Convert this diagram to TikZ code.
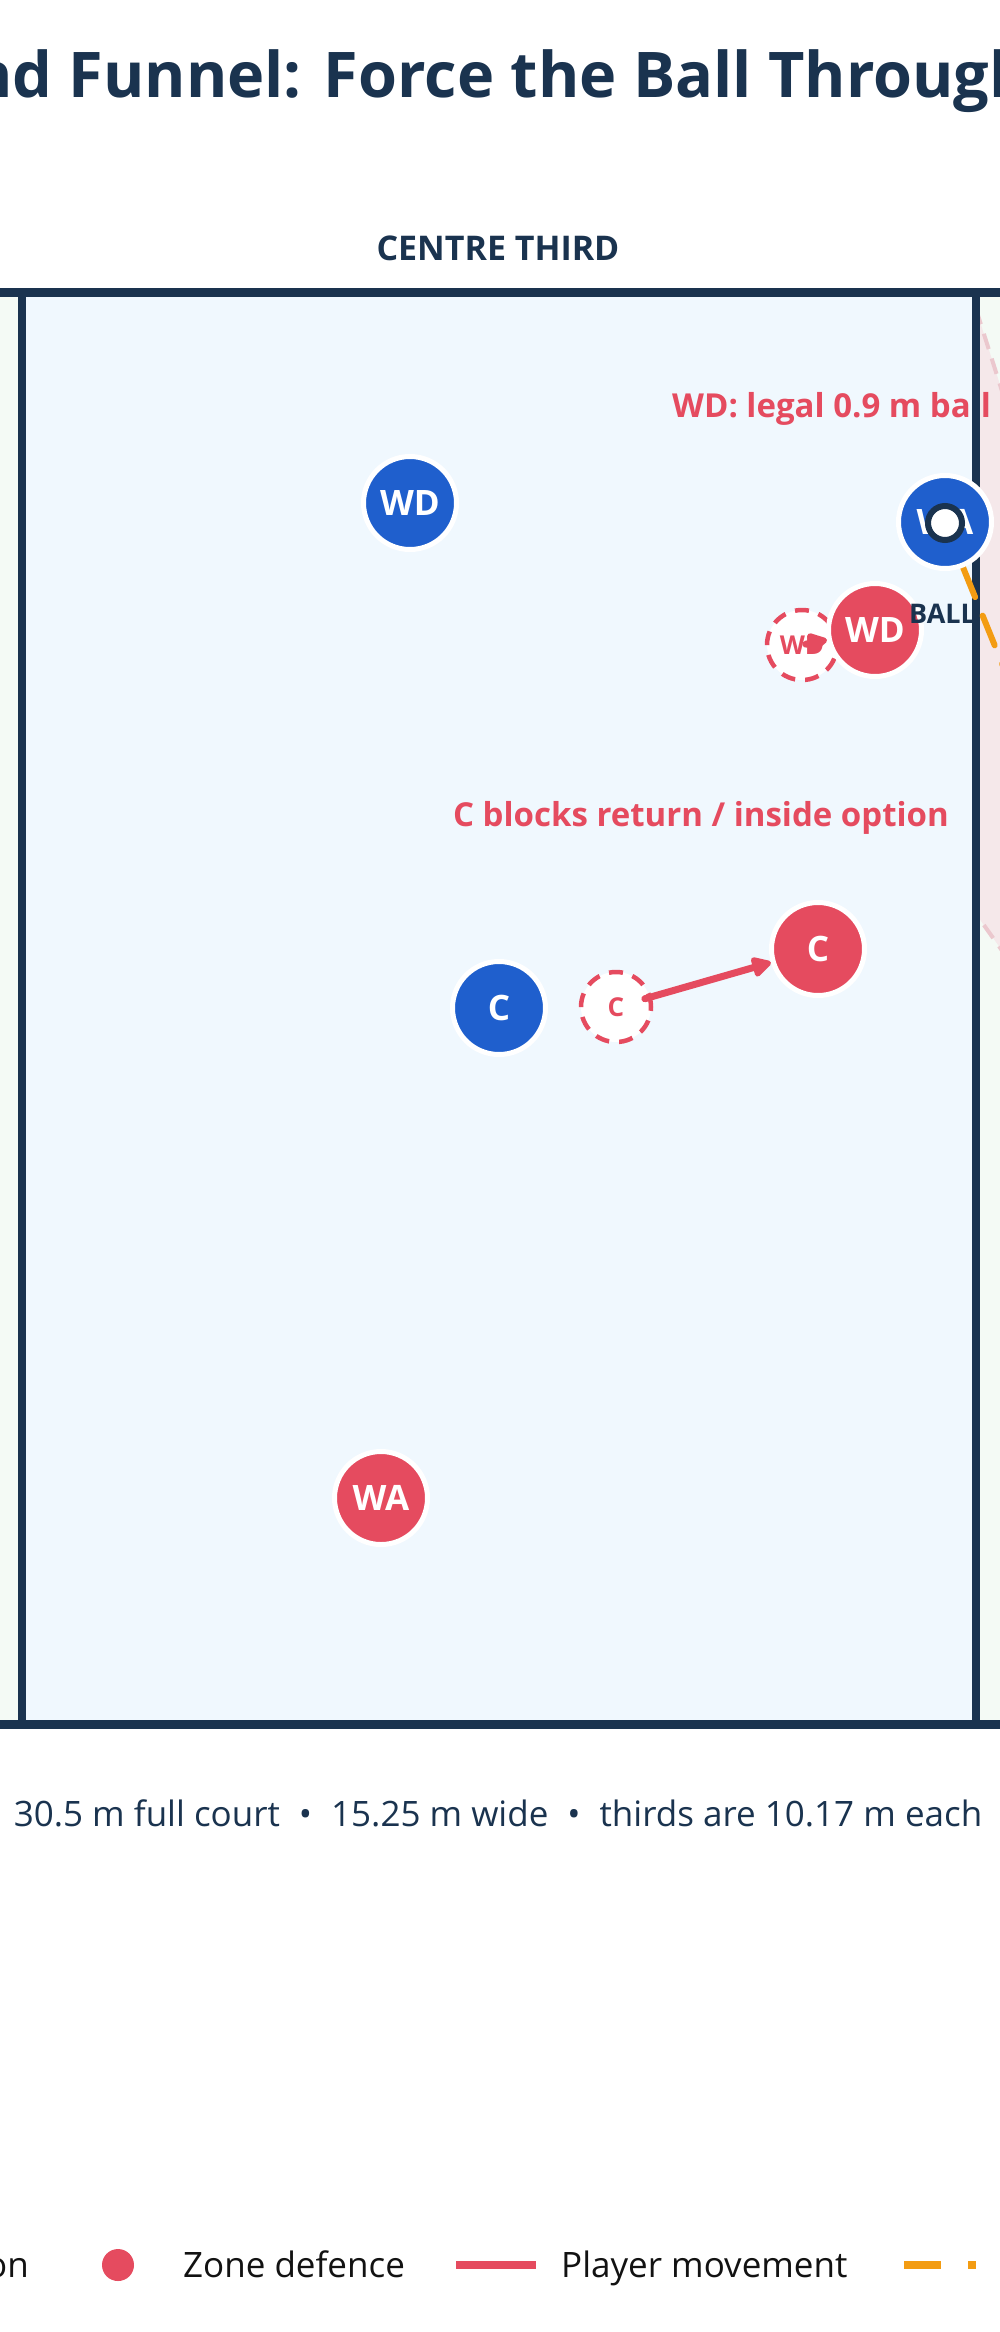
\documentclass[tikz,border=0pt]{standalone}
\usepackage{fontspec}
\setmainfont{Open Sans}
\usepackage{tikz}
\usetikzlibrary{arrows.meta}

\definecolor{navy}{HTML}{1A334F}
\definecolor{attblue}{HTML}{1F5FCD}
\definecolor{defred}{HTML}{E54B5F}
\definecolor{passorange}{HTML}{F39C12}
\definecolor{centrefill}{HTML}{F0F8FE}
\definecolor{thirdfill}{HTML}{F4FAF5}
\definecolor{funnelfill}{HTML}{F5E8EA}
\definecolor{funneledge}{HTML}{EBC8CE}
\newcommand{\fsz}[1]{\fontsize{#1}{#1}\selectfont}

\begin{document}
\begin{tikzpicture}[x=1pt,y=-1pt,
  attacker/.style={circle,fill=attblue,draw=white,line width=5pt,minimum size=93pt,inner sep=0pt,text=white,font=\bfseries\fsz{35}},
  defender/.style={attacker,fill=defred},
  ghost/.style={circle,fill=white,draw=defred,line width=4.5pt,dash pattern=on 14pt off 10pt,minimum size=70pt,inner sep=0pt,text=defred,font=\bfseries\fsz{26}},
  moveline/.style={defred,line width=7pt,line cap=round,-{Triangle[length=22pt,width=22pt,round]}},
  passline/.style={passorange,line width=6pt,line cap=round,dash pattern=on 32pt off 20pt,dash phase=4pt},
  note/.style={text=defred,font=\bfseries\fsz{33},inner sep=0pt},
  legtext/.style={text=black!93,font=\fsz{35},inner sep=0pt,anchor=base west}]
\useasboundingbox (0,0) rectangle (1000,2332);
\fill[white] (0,0) rectangle (1000,2332);

% Court thirds
\fill[thirdfill] (0,292) rectangle (22,1724);
\fill[centrefill] (22,292) rectangle (976,1724);
\fill[thirdfill] (976,292) rectangle (1000,1724);
% Funnel zone along the sideline
\begin{scope}
\clip (976,292) rectangle (1000,1724);
\filldraw[fill=funnelfill,draw=funneledge,line width=4pt,dash pattern=on 16pt off 10pt] (976,309) -- (1070,606) -- (1070,1046) -- (976,914) -- cycle;
\end{scope}

% Headings and notes
\node[text=navy,font=\bfseries\fsz{63},anchor=base west,inner sep=0pt] (title) at (-29,97) {nd Funnel: Force the Ball Through};
\node[text=navy,font=\bfseries\fsz{34},anchor=base,inner sep=0pt] (thirdname) at (498,260) {CENTRE THIRD};
\node[note,anchor=base west] (wdnote) at (672,417) {WD: legal 0.9 m ball};
\node[note,anchor=base] (cnote) at (701,826) {C blocks return / inside option};

% Court lines
\draw[navy,line width=8pt] (22,292) -- (22,1724);
\draw[navy,line width=8pt] (976,292) -- (976,1724);
\draw[navy,line width=9pt] (0,292) -- (1000,292);
\draw[navy,line width=9pt] (0,1724) -- (1000,1724);

% Pass down the line
\coordinate (ballpos) at (945,523);
\coordinate (passend) at (1090,880);
\draw[passline] (ballpos) -- (passend);

% Attack
\node[attacker] (WD) at (410,503) {WD};
\node[attacker] (WA) at (945,522) {WA};
\node[attacker] (C) at (499,1008) {C};
\node[circle,fill=white,draw=navy,line width=6pt,minimum size=34pt,inner sep=0pt] (ball) at (ballpos) {};

% Zone defence, old spots dashed
\node[ghost] (gWD) at (802,645) {WD};
\node[ghost] (gC) at (616,1007) {C};
\node[defender] (dWD) at (875,630) {WD};
\node[defender] (dC) at (818,949) {C};
\node[defender] (dWA) at (381,1498) {WA};
\draw[moveline,shorten <=4pt] (gWD.center) -- (dWD);
\draw[moveline,shorten <=30pt] (gC.center) -- (dC);
\node[text=navy,font=\bfseries\fsz{27},anchor=base west,inner sep=0pt] (balllabel) at (909,623) {BALL};

% Footer
\node[text=navy,font=\fsz{35},anchor=base,inner sep=0pt] (courtsize) at (498,1826) {30.5 m full court\hspace{19pt}•\hspace{19pt}15.25 m wide\hspace{19pt}•\hspace{19pt}thirds are 10.17 m each};

% Legend
\node[legtext,anchor=base east] (legatt) at (29,2277) {on};
\node[circle,fill=defred,minimum size=32pt,inner sep=0pt] (legdot) at (118,2265) {};
\node[legtext] (legzone) at (183,2277) {Zone defence};
\draw[defred,line width=8pt] (456,2265) -- (536,2265);
\node[legtext] (legmove) at (561,2277) {Player movement};
\draw[passorange,line width=8pt,dash pattern=on 37pt off 27pt] (904,2265) -- (976,2265);
\end{tikzpicture}
\end{document}
